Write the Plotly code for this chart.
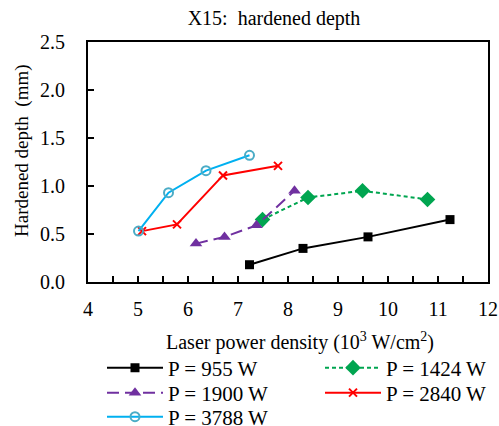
import plotly.graph_objects as go

# Data (x: laser power density, 10^3 W/cm^2; y: hardened depth, mm)
x_955 = [7.23, 8.30, 9.60, 11.24]
y_955 = [0.18, 0.35, 0.47, 0.65]
x_1424 = [7.49, 8.40, 9.49, 10.79]
y_1424 = [0.65, 0.88, 0.95, 0.86]
x_1900 = [6.16, 6.73, 7.37, 8.13]
y_1900 = [0.40, 0.47, 0.59, 0.95]
x_2840 = [5.08, 5.78, 6.70, 7.80]
y_2840 = [0.53, 0.60, 1.11, 1.21]
x_3788 = [5.01, 5.61, 6.36, 7.23]
y_3788 = [0.53, 0.93, 1.16, 1.32]

names = ["P = 955 W", "P = 1424 W", "P = 1900 W", "P = 2840 W", "P = 3788 W"]

FONT = "Liberation Serif"
L, R, T, B = 88, 11, 42, 144
W, H = 499, 426
PW, PH = W - L - R, H - T - B


def px2paper(px, py):
    return (px - L) / PW, (H - B - py) / PH


fig = go.Figure()
fig.add_trace(go.Scatter(x=x_955, y=y_955, name=names[0], mode="lines+markers", legend="legend",
                         line=dict(color="#000000", width=2),
                         marker=dict(symbol="square", size=9, color="#000000")))
fig.add_trace(go.Scatter(x=x_1424, y=y_1424, name=names[1], mode="lines+markers", legend="legend2",
                         line=dict(color="#00A550", width=2, dash="4px,3px"),
                         marker=dict(symbol="diamond", size=12, color="#00A550")))
fig.add_trace(go.Scatter(x=x_1900, y=y_1900, name=names[2], mode="lines+markers", legend="legend3",
                         line=dict(color="#7030A0", width=2, dash="12px,6px"),
                         marker=dict(symbol="triangle-up", size=11, color="#7030A0")))
fig.add_trace(go.Scatter(x=x_2840, y=y_2840, name=names[3], mode="lines+markers", legend="legend4",
                         line=dict(color="#FF0000", width=2),
                         marker=dict(symbol="x-thin", size=8, color="#FF0000",
                                     line=dict(color="#FF0000", width=2))))
fig.add_trace(go.Scatter(x=x_3788, y=y_3788, name=names[4], mode="lines+markers", legend="legend5",
                         line=dict(color="#00B0F0", width=2),
                         marker=dict(symbol="circle-open", size=9, color="#4BACC6",
                                     line=dict(color="#4BACC6", width=2))))

axis_common = dict(showline=True, linecolor="black", linewidth=2, mirror=True,
                   ticks="inside", ticklen=6, tickcolor="black", tickwidth=1.5,
                   showgrid=False, zeroline=False,
                   tickfont=dict(family=FONT, size=20, color="black"))

fig.update_xaxes(range=[4, 12], dtick=1, tick0=4, ticklabelstandoff=8,
                 minor=dict(dtick=0.5, ticks="inside", ticklen=6, tickcolor="black", tickwidth=1.5, showgrid=False),
                 **axis_common)
fig.update_yaxes(range=[0, 2.5], dtick=0.5, tick0=0, tickformat=".1f", ticklabelstandoff=17,
                 **axis_common)

# legend anchor positions (pixel) for the two columns / three rows
legend_pos = {"legend": (102, 368), "legend2": (320, 368), "legend3": (102, 393),
              "legend4": (320, 393), "legend5": (102, 417)}
legends = {}
for key, (lx, ly) in legend_pos.items():
    xp, yp = px2paper(lx, ly)
    legends[key] = dict(orientation="v", x=xp, xanchor="left", y=yp, yanchor="middle",
                        itemwidth=56, font=dict(family=FONT, size=21, color="black"),
                        bgcolor="rgba(0,0,0,0)", borderwidth=0)

ytx, yty = px2paper(22, 151)
xtx, xty = px2paper(300, 341)

fig.update_layout(
    width=W, height=H,
    margin=dict(l=L, r=R, t=T, b=B, autoexpand=False),
    paper_bgcolor="white", plot_bgcolor="white",
    font=dict(family=FONT, size=20, color="black"),
    title=dict(text="X15:  hardened depth", x=274 / W, xanchor="center",
               y=1 - 18 / H, yanchor="middle", font=dict(family=FONT, size=20, color="black")),
    showlegend=True,
    annotations=[
        dict(text="Hardened depth  (mm)", textangle=-90, xref="paper", yref="paper",
             x=ytx, y=yty, xanchor="center", yanchor="middle",
             showarrow=False, font=dict(family=FONT, size=19, color="black")),
        dict(text="Laser power density (10<sup>3</sup> W/cm<sup>2</sup>)", xref="paper", yref="paper",
             x=xtx, y=xty, xanchor="center", yanchor="middle",
             showarrow=False, font=dict(family=FONT, size=20, color="black")),
    ],
    **legends,
)

fig.write_html("out.html")
